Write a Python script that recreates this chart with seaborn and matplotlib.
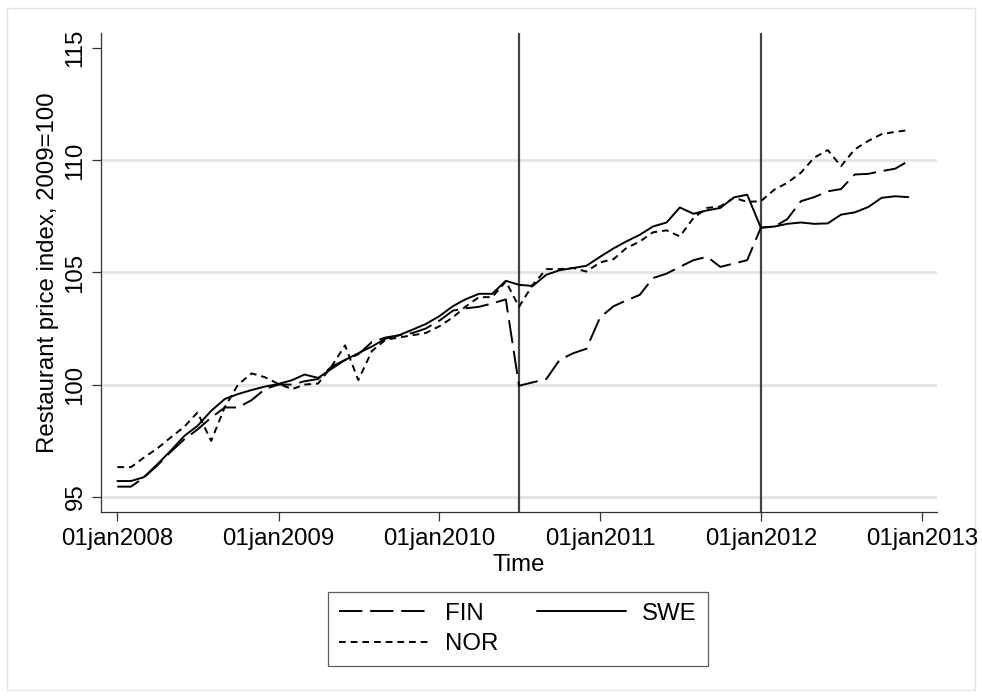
import pandas as pd
import matplotlib
matplotlib.use("Agg")
import matplotlib.pyplot as plt
from matplotlib.patches import Rectangle
import seaborn as sns

# monthly restaurant price index, Jan 2008 - Dec 2012 (2009=100)
months = pd.date_range("2008-01-01", periods=60, freq="MS")

fin = [95.45, 95.45, 95.85, 96.40, 97.00, 97.56, 98.00, 98.53, 98.98, 98.98, 99.31, 99.80,
       100.00, 100.00, 100.15, 100.25, 100.80, 101.10, 101.35, 101.90, 102.10, 102.20, 102.30, 102.50,
       102.85, 103.30, 103.40, 103.47, 103.62, 103.80, 99.95, 100.10, 100.25, 101.10, 101.40, 101.60,
       103.00, 103.50, 103.75, 104.00, 104.75, 104.95, 105.25, 105.55, 105.70, 105.25, 105.40, 105.55,
       107.00, 107.05, 107.38, 108.18, 108.36, 108.62, 108.72, 109.37, 109.40, 109.52, 109.63, 109.97]

swe = [95.70, 95.70, 95.87, 96.45, 97.05, 97.71, 98.16, 98.83, 99.36, 99.58, 99.76, 99.91,
       100.03, 100.20, 100.45, 100.30, 100.70, 101.10, 101.40, 101.70, 102.05, 102.20, 102.45, 102.70,
       103.05, 103.50, 103.80, 104.05, 104.05, 104.63, 104.45, 104.40, 104.90, 105.10, 105.20, 105.30,
       105.70, 106.08, 106.38, 106.68, 107.05, 107.23, 107.90, 107.62, 107.77, 107.88, 108.35, 108.47,
       107.00, 107.05, 107.17, 107.23, 107.17, 107.19, 107.58, 107.68, 107.92, 108.33, 108.40, 108.36]

nor = [96.32, 96.32, 96.74, 97.16, 97.64, 98.12, 98.76, 97.49, 99.00, 100.00, 100.50, 100.33,
       100.03, 99.80, 100.00, 100.05, 100.80, 101.75, 100.20, 101.50, 102.00, 102.10, 102.20, 102.30,
       102.60, 103.00, 103.47, 103.90, 103.90, 104.60, 103.47, 104.45, 105.15, 105.15, 105.20, 105.04,
       105.45, 105.60, 106.08, 106.38, 106.79, 106.88, 106.61, 107.43, 107.88, 107.95, 108.33, 108.15,
       108.18, 108.70, 109.00, 109.45, 110.12, 110.46, 109.74, 110.49, 110.87, 111.17, 111.27, 111.35]

xtick_dates = pd.to_datetime(["2008-01-01", "2009-01-01", "2010-01-01",
                              "2011-01-01", "2012-01-01", "2013-01-01"])
xtick_labels = ["01jan2008", "01jan2009", "01jan2010", "01jan2011", "01jan2012", "01jan2013"]
yticks = [95, 100, 105, 110, 115]
event_dates = pd.to_datetime(["2010-07-01", "2012-01-01"])

sns.set_theme(style="white")
plt.rcParams["font.family"] = ["Liberation Sans", "DejaVu Sans"]
plt.rcParams["text.color"] = "black"
plt.rcParams["axes.labelcolor"] = "black"

fig = plt.figure(figsize=(9.82, 6.98), dpi=100)
ax = fig.add_axes([0.1029, 0.2665, 0.8513, 0.6862])

# faint outer frame like Stata's graph region (drawn underneath everything)
fig.patches.append(Rectangle((7 / 982, 8 / 698), 968 / 982, 682 / 698,
                             transform=fig.transFigure, fill=False,
                             edgecolor="#e4e4e4", lw=1, zorder=-5))

for y in yticks[:-1]:
    ax.axhline(y, color="#e6e6e6", lw=2.2, zorder=0)
for d in event_dates:
    ax.axvline(d, color="#444444", lw=1.6, zorder=1)

sns.lineplot(x=months, y=fin, ax=ax, color="black", lw=1.4,
             linestyle=(0, (12, 4)), label="FIN")
sns.lineplot(x=months, y=swe, ax=ax, color="black", lw=1.4,
             linestyle="-", label="SWE")
sns.lineplot(x=months, y=nor, ax=ax, color="black", lw=1.4,
             linestyle=(0, (3.5, 2.5)), label="NOR")
if ax.get_legend() is not None:
    ax.get_legend().remove()

ax.set_xlim(pd.Timestamp("2007-11-25"), pd.Timestamp("2013-02-04"))
ax.set_ylim(94.32, 115.68)

ax.set_xticks(xtick_dates)
ax.set_xticklabels(xtick_labels, fontsize=17.3)
ax.set_yticks(yticks)
ax.set_yticklabels([str(v) for v in yticks], fontsize=17.3, rotation=90, va="center")
ax.tick_params(axis="both", length=6.5, width=0.9, color="#333333",
               bottom=True, left=True, labelcolor="black")
ax.tick_params(axis="x", pad=5)
ax.tick_params(axis="y", pad=4)

ax.set_xlabel("Time", fontsize=17.3, labelpad=3, color="black")
ax.set_ylabel("Restaurant price index, 2009=100", fontsize=17.3, labelpad=4, color="black")

sns.despine(ax=ax)
for side in ["left", "bottom"]:
    ax.spines[side].set_color("#333333")
    ax.spines[side].set_linewidth(0.9)

handles, labels = ax.get_legend_handles_labels()
order = [labels.index(n) for n in ["FIN", "NOR", "SWE"]]
leg = fig.legend([handles[i] for i in order], [labels[i] for i in order],
                 loc="center", bbox_to_anchor=(0.5275, 0.0989), ncol=2,
                 fontsize=17.3, frameon=True, fancybox=False,
                 handlelength=3.7, handletextpad=0.7, columnspacing=1.6,
                 borderpad=0.45, labelspacing=0.35)
leg.get_frame().set_edgecolor("#333333")
leg.get_frame().set_linewidth(0.9)
for t in leg.get_texts():
    t.set_color("black")

fig.savefig("out.png", dpi=100, facecolor="white")
